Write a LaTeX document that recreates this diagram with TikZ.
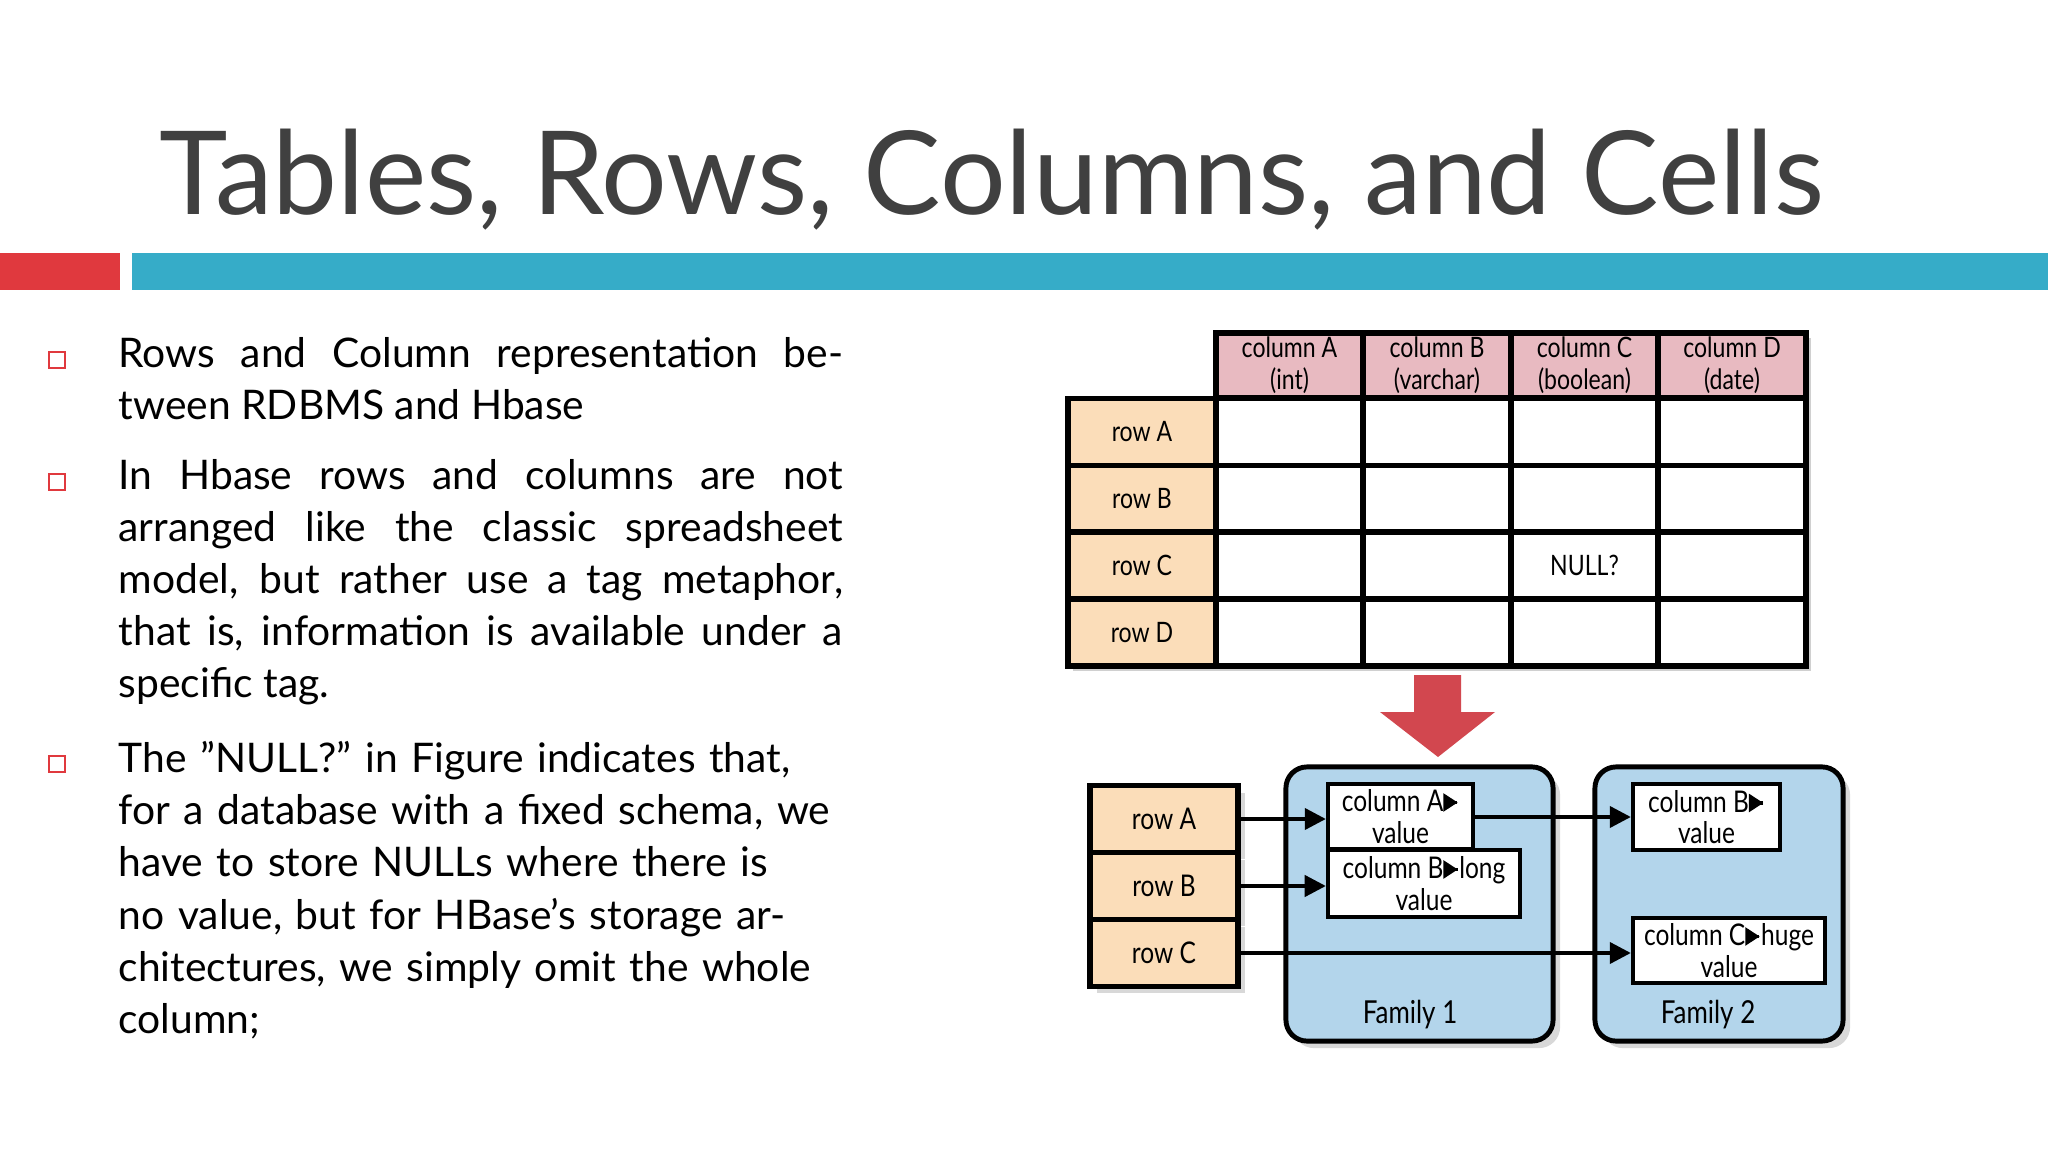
\documentclass[tikz,border=0pt]{standalone}
\usepackage{fontspec}
\setmainfont{Lato}
\usetikzlibrary{arrows.meta,shadows,positioning}
\definecolor{titlegray}{HTML}{404040}
\definecolor{barred}{HTML}{E0393E}
\definecolor{barblue}{HTML}{36ACC8}
\definecolor{headpink}{HTML}{E8BAC1}
\definecolor{rowpeach}{HTML}{FBDDB9}
\definecolor{famblue}{HTML}{B3D5EB}
\definecolor{bigred}{HTML}{D2474F}
\newcommand{\nar}[1]{\scalebox{0.82}[1]{#1}}
\newcommand{\tarr}{\tikz[baseline=-0.6ex]\draw[line width=1pt,-{Triangle[length=5pt,width=5pt]}] (0,0) -- (0.38,0);}
\begin{document}
\begin{tikzpicture}[x=0.01cm,y=-0.01cm,
  cellstyle/.style={draw, line width=1.6pt, minimum width=1.475cm, minimum height=0.668cm, inner sep=0pt, font=\fontsize{8}{9}\selectfont, align=center},
  headstyle/.style={cellstyle, fill=headpink, minimum height=0.65cm},
  rowstyle/.style={cellstyle, fill=rowpeach},
  valstyle/.style={draw, line width=1.2pt, fill=white, inner sep=0pt, font=\fontsize{8.5}{9}\selectfont, align=center},
  famstyle/.style={draw, line width=1.4pt, fill=famblue, rounded corners=6pt, drop shadow={opacity=0.3, shadow xshift=2pt, shadow yshift=-2pt}},
  link/.style={line width=1.1pt, -{Triangle[length=6pt,width=6pt]}},
  bullet/.style={draw=barred, line width=0.8pt, minimum size=0.16cm, inner sep=0pt}]
\useasboundingbox (0,0) rectangle (2048,1152);
\fill[white] (0,0) rectangle (2048,1152);

% title and bars
\node[anchor=base west, text=titlegray, font=\fontsize{33}{36}\selectfont, inner sep=0pt] (title) at (159,215) {Tables, Rows, Columns, and Cells};
\fill[barred] (0,253) rectangle (120,290);
\fill[barblue] (132,253) rectangle (2048,290);

% bullets
\node[bullet] (b1) at (57,360) {};
\node[bullet] (b2) at (57,482) {};
\node[bullet] (b3) at (57,764) {};
\node[anchor=north west, text width=7.24cm, align=justify, inner sep=0pt, font=\fontsize{11.6}{14.8}\selectfont] (t1) at (118,337) {Rows and Column representation between RDBMS and Hbase};
\node[anchor=north west, text width=7.24cm, align=justify, inner sep=0pt, font=\fontsize{11.6}{14.8}\selectfont] (t2) at (118,459) {In Hbase rows and columns are not arranged like the classic spreadsheet model, but rather use a tag metaphor, that is, information is available under a specific tag.};
\node[anchor=north west, text width=7.24cm, align=left, inner sep=0pt, font=\fontsize{11.6}{14.8}\selectfont] (t3) at (118,741) {The "NULL?" in Figure indicates that, for a database with a fixed schema, we have to store NULLs where there is no value, but for HBase’s storage architectures, we simply omit the whole column;};

% upper table
\fill[black!30, opacity=0.6] (1221,338) rectangle (1811,671);
\fill[black!30, opacity=0.6] (1073,403) rectangle (1221,671);
\foreach \c/\t [count=\i from 0] in {A/int, B/varchar, C/boolean, D/date}
  \node[headstyle] (h\c) at (1289.5+147.5*\i,365.5) {\nar{column \c}\\\nar{(\t)}};
\foreach \r [count=\j from 0] in {A,B,C,D}
  \node[rowstyle] (r\r) at (1142,432+66.8*\j) {\nar{row \r}};
\foreach \r [count=\j from 0] in {A,B,C,D}
  \foreach \c [count=\i from 0] in {A,B,C,D}
    \node[cellstyle, fill=white] (c\r\c) at (1289.5+147.5*\i,432+66.8*\j) {};
\node[font=\fontsize{8}{9}\selectfont] (null) at (cCC) {\nar{NULL?}};

% big arrow
\fill[bigred] (1414,675) -- (1461,675) -- (1461,712) -- (1495,712) -- (1438,757) -- (1380,712) -- (1414,712) -- cycle;

% lower figure
\node[famstyle, minimum width=2.67cm, minimum height=2.74cm] (fam1) at (1419.5,904) {};
\node[famstyle, minimum width=2.48cm, minimum height=2.74cm] (fam2) at (1719,904) {};
\node[font=\fontsize{9}{10}\selectfont] (f1) at (1410,1015) {\nar{Family 1}};
\node[font=\fontsize{9}{10}\selectfont] (f2) at (1708,1015) {\nar{Family 2}};
\foreach \r [count=\j from 0] in {A,B,C}
  \node[rowstyle, minimum width=1.48cm, font=\fontsize{8.5}{9}\selectfont, drop shadow={opacity=0.3, shadow xshift=2pt, shadow yshift=-2pt}] (s\r) at (1164,819+67*\j) {\nar{row \r}};
\node[valstyle, minimum width=1.45cm, minimum height=0.65cm] (vA) at (1400.5,816.5) {\nar{column A\tarr}\\\nar{value}};
\node[valstyle, minimum width=1.92cm, minimum height=0.67cm] (vB) at (1424,883.5) {\nar{column B\tarr long}\\\nar{value}};
\node[valstyle, minimum width=1.47cm, minimum height=0.66cm] (wB) at (1706.5,817) {\nar{column B\tarr}\\\nar{value}};
\node[valstyle, minimum width=1.92cm, minimum height=0.65cm] (wC) at (1729,950.5) {\nar{column C\tarr huge}\\\nar{value}};
\draw[link] (sA.east) -- (sA.east -| vA.west);
\draw[link] (sB.east) -- (sB.east -| vB.west);
\draw[link] (sC.east) -- (sC.east -| wC.west);
\draw[link] (vA.east |- wB.west) -- (wB.west);
\end{tikzpicture}
\end{document}
